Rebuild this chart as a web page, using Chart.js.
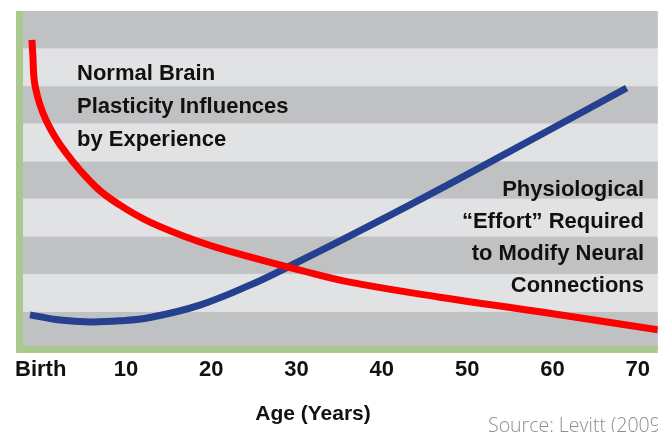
<!DOCTYPE html>
<html>
<head>
<meta charset="utf-8">
<script src="https://cdn.jsdelivr.net/npm/chart.js@4/dist/chart.umd.min.js"></script>
<style>
  html, body { margin: 0; padding: 0; background: #ffffff; }
  #wrap { width: 658px; height: 432px; }
</style>
</head>
<body>
<div id="wrap"><canvas id="c" width="658" height="432"></canvas></div>
<script>
// ---- data ----
const tickValues = [0, 10, 20, 30, 40, 50, 60, 70];
const tickLabels = ['Birth', '10', '20', '30', '40', '50', '60', '70'];

// Red: "Normal Brain Plasticity Influences by Experience"
const plasticityAges   = [-1.02, -0.93, -0.63, 0.62, 2.97, 6.49, 9.30, 12.81, 18.67, 24.53, 30.39, 36.25, 46.79, 58.51, 72.35];
const plasticityValues = [8.23, 7.88, 6.98, 6.10, 5.22, 4.31, 3.83, 3.38, 2.85, 2.45, 2.10, 1.78, 1.38, 0.99, 0.51];

// Blue: "Physiological 'Effort' Required to Modify Neural Connections"
const effortAges   = [-1.25, 2.27, 5.78, 9.30, 12.81, 18.67, 24.53, 29.22, 36.25, 44.80, 52.30, 68.70];
const effortValues = [0.91, 0.77, 0.72, 0.75, 0.84, 1.17, 1.70, 2.21, 3.01, 4.02, 4.93, 6.95];

const leftNote  = ['Normal Brain', 'Plasticity Influences', 'by Experience'];
const rightNote = ['Physiological', '\u201CEffort\u201D Required', 'to Modify Neural', 'Connections'];
const axisTitle = 'Age (Years)';
const sourceText = 'Source: Levitt (2009)';

// ---- chart ----
const BOLD = '"Liberation Sans", Arial, sans-serif';

const decor = {
  id: 'decor',
  beforeDatasetsDraw(chart) {
    const { ctx, chartArea: a, scales: { y } } = chart;
    ctx.save();
    for (let v = 0; v < 9; v++) {
      const top = y.getPixelForValue(v + 1), bot = y.getPixelForValue(v);
      ctx.fillStyle = (v % 2 === 0) ? '#c0c1c3' : '#e1e2e4';
      ctx.fillRect(a.left, top, a.right - a.left, bot - top);
    }
    // green frame (left and bottom)
    ctx.fillStyle = '#a9c98f';
    ctx.fillRect(a.left, a.top, 7, a.bottom + 4 - a.top);
    ctx.fillRect(a.left, a.bottom - 3, a.right - a.left, 7);
    // annotations
    ctx.fillStyle = '#111111';
    ctx.font = 'bold 22px ' + BOLD;
    ctx.textBaseline = 'alphabetic';
    ctx.textAlign = 'left';
    leftNote.forEach((t, i) => ctx.fillText(t, 77, 80 + i * 32.8));
    ctx.textAlign = 'right';
    rightNote.forEach((t, i) => ctx.fillText(t, 644, 196 + i * 32));
    ctx.restore();
  },
  afterDraw(chart) {
    const { ctx } = chart;
    ctx.save();
    ctx.fillStyle = '#111111';
    ctx.font = 'bold 21px ' + BOLD;
    ctx.textAlign = 'center';
    ctx.textBaseline = 'alphabetic';
    ctx.fillText(axisTitle, 313, 420);
    ctx.fillStyle = '#8e8e8e';
    ctx.font = '300 19.5px "Open Sans", "Noto Sans", sans-serif';
    ctx.textAlign = 'left';
    ctx.fillText(sourceText, 488, 432);
    ctx.restore();
  }
};

new Chart(document.getElementById('c'), {
  type: 'line',
  data: {
    datasets: [
      {
        label: 'Normal Brain Plasticity Influences by Experience',
        data: plasticityAges.map((x, i) => ({ x, y: plasticityValues[i] })),
        borderColor: '#ff0000',
        borderWidth: 7,
        pointRadius: 0,
        fill: false,
        tension: 0.4
      },
      {
        label: 'Physiological Effort Required to Modify Neural Connections',
        data: effortAges.map((x, i) => ({ x, y: effortValues[i] })),
        borderColor: '#25408f',
        borderWidth: 7,
        pointRadius: 0,
        fill: false,
        tension: 0.4
      }
    ]
  },
  options: {
    responsive: false,
    animation: false,
    layout: { padding: { left: 16, top: 11, right: 0, bottom: 0 } },
    plugins: { legend: { display: false }, tooltip: { enabled: false } },
    scales: {
      x: {
        type: 'linear',
        min: -2.89,
        max: 72.35,
        grid: { display: false, drawTicks: false },
        border: { display: false },
        afterBuildTicks: s => { s.ticks = tickValues.map(v => ({ value: v })); },
        afterFit: s => { s.height = 83; },
        ticks: {
          autoSkip: false,
          maxRotation: 0,
          padding: 8,
          color: '#111111',
          font: { family: BOLD, size: 22, weight: 'bold' },
          callback: v => tickLabels[tickValues.indexOf(v)]
        }
      },
      y: {
        display: false,
        min: 0,
        max: 9
      }
    }
  },
  plugins: [decor]
});
</script>
</body>
</html>
